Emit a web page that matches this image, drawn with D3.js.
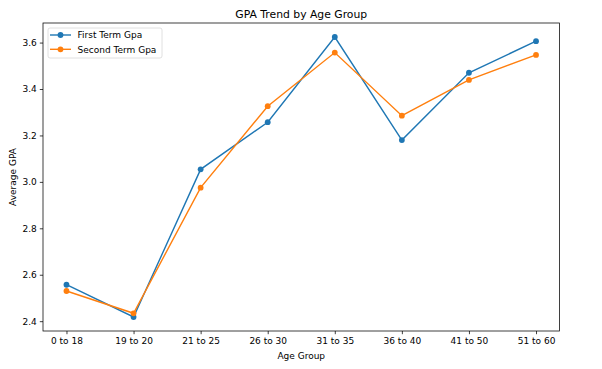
<!DOCTYPE html>
<html><head><meta charset="utf-8">
<script src="https://cdn.jsdelivr.net/npm/d3@7"></script>
<style>body{margin:0;background:#fff}svg{display:block}text{font-family:"DejaVu Sans",sans-serif;fill:#000}</style>
</head><body><svg id="c" width="602" height="369"></svg>
<script>
const categories = ["0 to 18","19 to 20","21 to 25","26 to 30","31 to 35","36 to 40","41 to 50","51 to 60"];
const firstTerm = [2.557,2.418,3.054,3.257,3.624,3.180,3.470,3.606];
const secondTerm = [2.530,2.434,2.975,3.326,3.557,3.285,3.439,3.547];
const yTicks = [2.4,2.6,2.8,3.0,3.2,3.4,3.6];
const seriesNames = ["First Term Gpa","Second Term Gpa"];
const colors = ["#1f77b4","#ff7f0e"];

const svg = d3.select("#c");
const L=43, R=559.5, T=23, B=331;
const n = categories.length;
const x = d3.scaleLinear().domain([-0.35, n-1+0.35]).range([L,R]);
const all = firstTerm.concat(secondTerm);
const mn=d3.min(all), mx=d3.max(all), pad=(mx-mn)*0.05;
const y = d3.scaleLinear().domain([mn-pad, mx+pad]).range([B,T]);

const xAxis = d3.axisBottom(x).tickValues(d3.range(n)).tickFormat(i=>categories[i]).tickSize(3.2).tickPadding(3);
const yAxis = d3.axisLeft(y).tickValues(yTicks).tickFormat(d3.format(".1f")).tickSize(3.2).tickPadding(3);
const gx = svg.append("g").attr("transform",`translate(0,${B})`).call(xAxis);
const gy = svg.append("g").attr("transform",`translate(${L},0)`).call(yAxis);
[gx,gy].forEach(g=>{g.select(".domain").remove();g.selectAll("text").attr("font-size",9).attr("font-family","DejaVu Sans").attr("fill","#000");g.selectAll("line").attr("stroke","#000").attr("stroke-width",0.75);});

const series=[firstTerm,secondTerm];
const line=d3.line().x((d,i)=>x(i)).y(d=>y(d));
series.forEach((s,k)=>{
  svg.append("path").datum(s).attr("d",line).attr("fill","none").attr("stroke",colors[k]).attr("stroke-width",1.4);
  svg.selectAll(null).data(s).enter().append("circle").attr("cx",(d,i)=>x(i)).attr("cy",d=>y(d)).attr("r",2.9).attr("fill",colors[k]);
});

svg.append("rect").attr("x",L).attr("y",T).attr("width",R-L).attr("height",B-T).attr("fill","none").attr("stroke","#000").attr("stroke-width",0.75);

svg.append("text").attr("x",(L+R)/2).attr("y",18).attr("text-anchor","middle").attr("font-size",10.8).text("GPA Trend by Age Group");
svg.append("text").attr("x",(L+R)/2).attr("y",359).attr("text-anchor","middle").attr("font-size",9).text("Age Group");
svg.append("text").attr("transform",`translate(16,${(T+B)/2}) rotate(-90)`).attr("text-anchor","middle").attr("font-size",9).text("Average GPA");

// legend
const lg=svg.append("g");
lg.append("rect").attr("x",48).attr("y",28).attr("width",114).attr("height",30).attr("rx",2).attr("fill","#fff").attr("fill-opacity",0.8).attr("stroke","#d6d6d6").attr("stroke-width",0.75);
seriesNames.forEach((nm,k)=>{
  const yy=35+k*14.3;
  lg.append("line").attr("x1",50).attr("x2",71).attr("y1",yy).attr("y2",yy).attr("stroke",colors[k]).attr("stroke-width",1.4);
  lg.append("circle").attr("cx",60.5).attr("cy",yy).attr("r",2.9).attr("fill",colors[k]);
  lg.append("text").attr("x",77.5).attr("y",yy+3.2).attr("font-size",9).text(nm);
});
</script></body></html>
